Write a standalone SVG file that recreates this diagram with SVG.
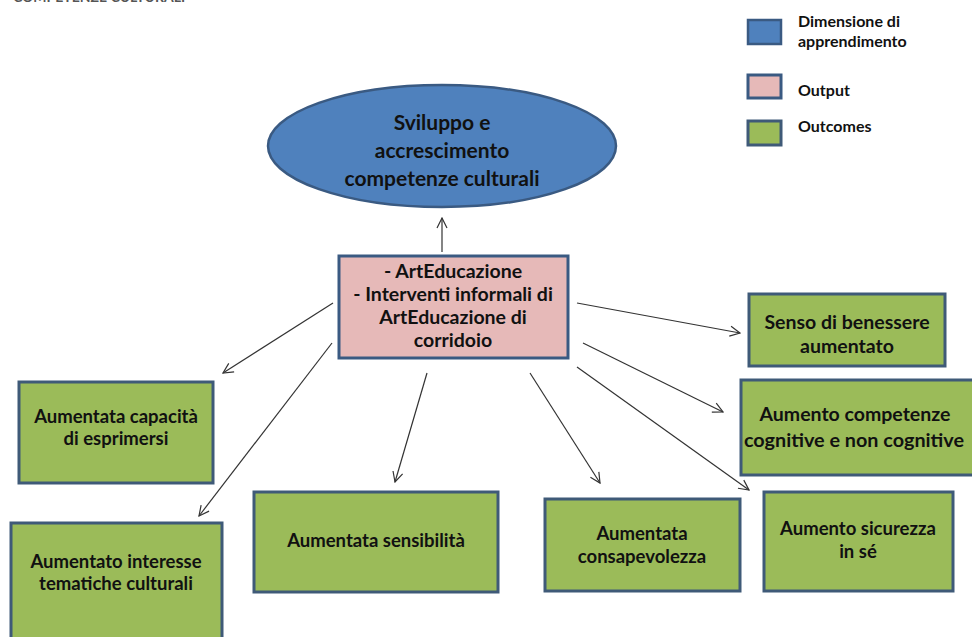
<svg xmlns="http://www.w3.org/2000/svg" width="972" height="637" viewBox="0 0 972 637">
<defs>
<style>
text{font-family:Lato,"Open Sans","Liberation Sans",sans-serif;font-weight:bold;fill:#111;}
.c{text-anchor:middle;}
.lg{font-size:16px;}
.n{font-size:18.5px;}
.p{font-size:19.5px;}
.e{font-size:21px;}
.blue{fill:#4f81bd;stroke:#3a5a82;stroke-width:2.5;}
.pink{fill:#e6b9b8;stroke:#3a5a82;stroke-width:3;}
.green{fill:#9bbb59;stroke:#3f5a78;stroke-width:3;}
.ln{stroke:#333;stroke-width:1.2;fill:none;marker-end:url(#ah);}
</style>
<marker id="ah" viewBox="0 0 12 12" refX="11" refY="6" markerWidth="12" markerHeight="12" markerUnits="userSpaceOnUse" orient="auto">
<path d="M1,1 L11,6 L1,11" fill="none" stroke="#333" stroke-width="1.2"/>
</marker>
</defs>
<rect width="972" height="637" fill="#fff"/>
<text x="13" y="2" style="font-size:14px;fill:#555">COMPETENZE CULTURALI</text>
<g id="legend">
<rect class="blue" x="748" y="20" width="33" height="24"/>
<rect class="pink" x="748" y="75" width="33" height="23"/>
<rect class="green" x="748" y="121" width="33" height="24"/>
<text class="lg" x="798" y="27">Dimensione di</text>
<text class="lg" x="798" y="47">apprendimento</text>
<text class="lg" x="798" y="96">Output</text>
<text class="lg" x="798" y="132">Outcomes</text>
</g>
<g id="connectors">
<line class="ln" x1="442" y1="252" x2="442" y2="218"/>
<line class="ln" x1="333" y1="303" x2="223" y2="373"/>
<line class="ln" x1="332" y1="343" x2="199" y2="516"/>
<line class="ln" x1="427" y1="373" x2="395" y2="482"/>
<line class="ln" x1="530" y1="373" x2="600" y2="483"/>
<line class="ln" x1="577" y1="303" x2="740" y2="333"/>
<line class="ln" x1="583" y1="343" x2="723" y2="412"/>
<line class="ln" x1="577" y1="367" x2="749" y2="490"/>
</g>
<g id="n-sviluppo">
<ellipse class="blue" cx="442" cy="146" rx="174" ry="61"/>
<text class="e c" x="442" y="130">Sviluppo e</text>
<text class="e c" x="442" y="158">accrescimento</text>
<text class="e c" x="442" y="186">competenze culturali</text>
</g>
<g id="n-output">
<rect class="pink" x="339" y="256" width="229" height="102"/>
<text class="p c" x="453" y="278">- ArtEducazione</text>
<text class="p c" x="453" y="301">- Interventi informali di</text>
<text class="p c" x="453" y="324">ArtEducazione di</text>
<text class="p c" x="453" y="347">corridoio</text>
</g>
<g id="n-esprimersi">
<rect class="green" x="19" y="382" width="194" height="101"/>
<text class="n c" x="116" y="423">Aumentata capacità</text>
<text class="n c" x="116" y="445">di esprimersi</text>
</g>
<g id="n-interesse">
<rect class="green" x="11" y="523" width="211" height="130"/>
<text class="n c" x="116" y="568">Aumentato interesse</text>
<text class="n c" x="116" y="590">tematiche culturali</text>
</g>
<g id="n-sensibilita">
<rect class="green" x="254" y="492" width="244" height="100"/>
<text class="n c" x="376" y="547">Aumentata sensibilità</text>
</g>
<g id="n-consapevolezza">
<rect class="green" x="545" y="499" width="195" height="92"/>
<text class="n c" x="642" y="540">Aumentata</text>
<text class="n c" x="642" y="563">consapevolezza</text>
</g>
<g id="n-sicurezza">
<rect class="green" x="764" y="492" width="189" height="99"/>
<text class="n c" x="858" y="535">Aumento sicurezza</text>
<text class="n c" x="858" y="558">in sé</text>
</g>
<g id="n-benessere">
<rect class="green" x="749" y="294" width="196" height="72"/>
<text class="p c" x="847" y="329">Senso di benessere</text>
<text class="p c" x="847" y="353">aumentato</text>
</g>
<g id="n-competenze">
<rect class="green" x="741" y="380" width="240" height="95"/>
<text class="p c" x="855" y="421">Aumento competenze</text>
<text class="p c" x="854" y="447" style="font-size:19.8px">cognitive e non cognitive</text>
</g>
</svg>
